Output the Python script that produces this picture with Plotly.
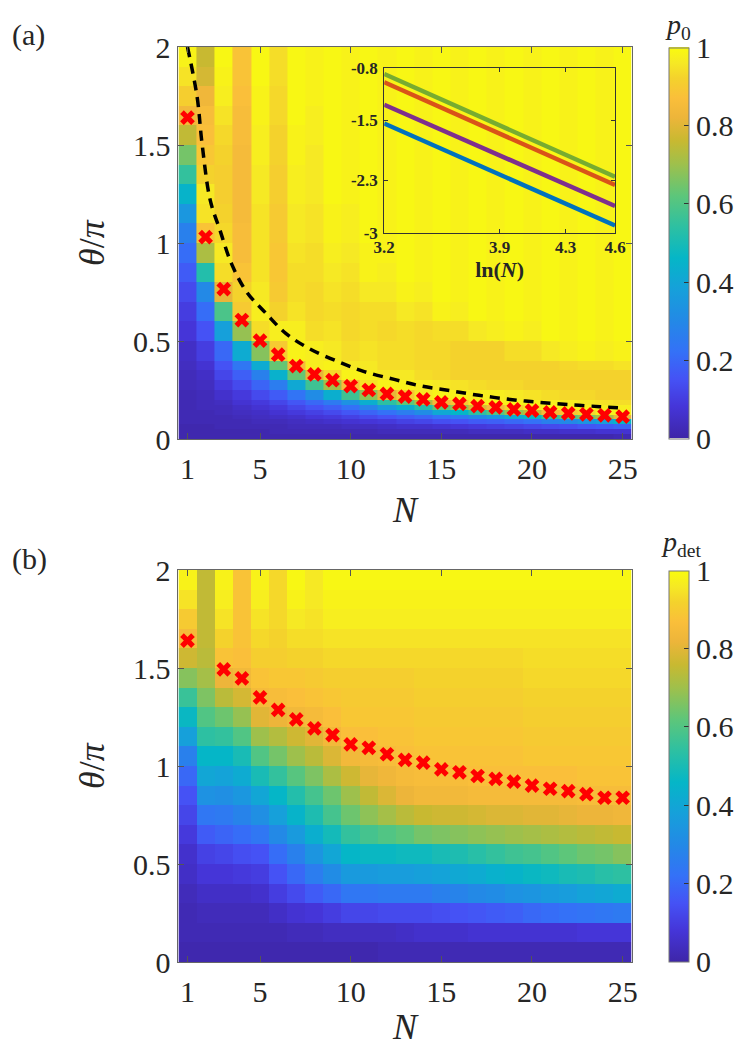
import numpy as np
import plotly.graph_objects as go

# the page body keeps a small default margin, so the figure is drawn slightly in
PAGE_W, PAGE_H = 748, 1055
OFF_X, OFF_Y = 4, 8
W, H = PAGE_W - 16, PAGE_H - 16
FONT = '"Liberation Serif", "Times New Roman", "DejaVu Serif", serif'

# ---- data ----
N_vals = list(range(1, 26))

# panel (a): row edges in theta/pi (finer near the bottom)
theta_edges_a = [0, 0.025, 0.05, 0.075, 0.1, 0.125, 0.15, 0.175, 0.2,
                 0.25, 0.3, 0.35, 0.4, 0.5, 0.6, 0.7, 0.8, 0.9, 1.0, 1.1,
                 1.2, 1.3, 1.4, 1.5, 1.6, 1.7, 1.8, 1.9, 2.0]

# p0 in percent, one row per theta band (bottom -> top), columns N=1..25
p0_rows = [
    [1, 1, 1, 1, 1, 1, 1, 1, 1, 1, 1, 1, 1, 1, 1, 1, 1, 1, 1, 1, 1, 1, 1, 1, 2],
    [1, 1, 1, 1, 1, 2, 2, 2, 2, 2, 2, 3, 3, 3, 3, 3, 4, 4, 4, 5, 5, 6, 6, 7, 7],
    [1, 1, 2, 2, 2, 2, 3, 3, 3, 4, 4, 5, 6, 6, 7, 8, 9, 10, 11, 12, 13, 14, 16, 17, 19],
    [2, 2, 2, 2, 3, 3, 4, 5, 6, 7, 8, 9, 11, 12, 14, 15, 17, 18, 20, 22, 27, 30, 34, 38, 46],
    [2, 2, 2, 3, 4, 5, 6, 8, 9, 11, 13, 15, 17, 19, 22, 25, 30, 35, 42, 47, 56, 61, 66, 72, 82],
    [2, 2, 3, 4, 5, 7, 9, 11, 13, 16, 19, 22, 26, 31, 41, 46, 54, 60, 69, 75, 85, 89, 93, 97, 98],
    [2, 3, 3, 5, 7, 9, 12, 15, 18, 22, 28, 36, 43, 52, 62, 69, 79, 84, 92, 96, 98, 98, 98, 97, 97],
    [2, 3, 4, 7, 9, 12, 16, 20, 25, 33, 43, 54, 62, 72, 84, 89, 96, 98, 98, 98, 97, 97, 96, 95, 94],
    [2, 3, 6, 9, 13, 17, 23, 31, 43, 57, 68, 81, 90, 96, 98, 98, 97, 97, 96, 95, 94, 93, 93, 92, 92],
    [3, 4, 9, 13, 19, 26, 41, 57, 70, 86, 95, 98, 98, 97, 96, 95, 94, 93, 93, 92, 92, 92, 92, 92, 92],
    [3, 5, 12, 18, 27, 44, 63, 81, 93, 98, 98, 96, 96, 94, 93, 92, 92, 92, 92, 92, 92, 92, 92, 92, 92],
    [4, 7, 15, 24, 42, 63, 85, 97, 98, 96, 96, 94, 94, 93, 93, 92, 92, 92, 92, 92, 92, 93, 94, 94, 95],
    [5, 10, 20, 42, 67, 90, 98, 97, 96, 94, 95, 94, 94, 93, 93, 92, 92, 92, 94, 94, 96, 97, 98, 97, 98],
    [8, 15, 38, 69, 94, 97, 97, 94, 95, 93, 94, 93, 94, 93, 94, 94, 96, 97, 98, 97, 99, 98, 99, 98, 99],
    [10, 21, 59, 90, 97, 92, 95, 93, 94, 93, 94, 94, 96, 95, 98, 97, 99, 98, 99, 98, 99, 98, 99, 98, 99],
    [13, 30, 81, 92, 96, 90, 94, 93, 95, 94, 96, 96, 98, 97, 99, 98, 99, 98, 99, 98, 99, 98, 99, 98, 99],
    [17, 52, 94, 88, 95, 89, 94, 94, 96, 95, 98, 97, 99, 98, 99, 98, 99, 98, 99, 98, 99, 98, 99, 98, 99],
    [21, 72, 96, 86, 95, 89, 95, 94, 97, 96, 98, 98, 99, 98, 99, 98, 99, 98, 99, 98, 99, 98, 99, 98, 99],
    [27, 88, 93, 86, 95, 90, 96, 95, 98, 97, 99, 98, 99, 98, 99, 98, 99, 98, 99, 98, 99, 98, 99, 98, 99],
    [35, 95, 92, 85, 95, 90, 96, 95, 98, 97, 99, 98, 99, 98, 99, 98, 99, 98, 99, 98, 99, 98, 99, 98, 99],
    [45, 96, 91, 85, 96, 91, 97, 96, 99, 98, 99, 98, 99, 98, 99, 98, 99, 98, 99, 98, 99, 98, 99, 98, 99],
    [55, 92, 91, 85, 96, 91, 97, 96, 99, 98, 99, 98, 99, 98, 99, 98, 99, 98, 99, 98, 99, 98, 99, 98, 99],
    [65, 89, 92, 85, 97, 92, 98, 96, 99, 98, 99, 98, 99, 98, 99, 98, 99, 98, 99, 98, 99, 98, 99, 98, 99],
    [75, 87, 93, 86, 97, 92, 98, 97, 99, 98, 99, 98, 99, 98, 99, 98, 99, 98, 99, 98, 99, 98, 99, 98, 99],
    [84, 86, 95, 86, 98, 93, 99, 97, 99, 98, 99, 98, 99, 98, 99, 98, 99, 98, 99, 98, 99, 98, 99, 98, 99],
    [91, 83, 97, 87, 98, 93, 99, 98, 99, 98, 99, 98, 99, 98, 99, 98, 99, 98, 99, 98, 99, 98, 99, 98, 99],
    [95, 78, 98, 88, 99, 94, 99, 98, 99, 98, 99, 98, 99, 98, 99, 98, 99, 98, 99, 98, 99, 98, 99, 98, 99],
    [98, 76, 99, 88, 99, 94, 99, 98, 99, 98, 99, 98, 99, 98, 99, 98, 99, 98, 99, 98, 99, 98, 99, 98, 99],
]

# panel (b): uniform bands of 0.1
theta_edges_b = [round(0.1 * i, 1) for i in range(21)]

# p_det in percent, one list per column N=1..25 (bottom -> top)
pdet_cols = [
    [1, 2, 2, 3, 5, 6, 9, 12, 15, 20, 27, 38, 47, 56, 67, 77, 85, 90, 95, 98],
    [1, 2, 3, 5, 8, 11, 17, 24, 33, 40, 46, 54, 60, 66, 71, 74, 75, 75, 75, 75],
    [1, 2, 3, 5, 8, 12, 19, 25, 32, 39, 46, 55, 64, 74, 82, 88, 92, 95, 97, 98],
    [1, 2, 3, 5, 9, 14, 21, 28, 35, 42, 50, 60, 69, 78, 84, 87, 88, 88, 88, 88],
    [1, 2, 3, 6, 10, 15, 24, 32, 40, 50, 60, 70, 80, 85, 88, 91, 93, 95, 97, 98],
    [1, 2, 5, 10, 15, 21, 30, 38, 46, 55, 65, 73, 82, 86, 89, 91, 92, 93, 93, 93],
    [1, 3, 7, 13, 20, 27, 36, 45, 52, 61, 70, 77, 84, 87, 89, 92, 94, 96, 98, 99],
    [1, 3, 8, 17, 26, 34, 43, 51, 58, 66, 74, 80, 85, 88, 90, 92, 94, 95, 96, 96],
    [1, 4, 10, 20, 31, 40, 49, 58, 64, 72, 79, 84, 87, 89, 91, 93, 95, 97, 98, 99],
    [1, 4, 12, 24, 36, 46, 55, 64, 70, 77, 84, 87, 89, 90, 91, 93, 95, 97, 98, 99],
    [1, 4, 12, 24, 36, 47, 58, 68, 75, 81, 85, 87, 89, 90, 91, 93, 95, 97, 98, 99],
    [2, 4, 13, 25, 37, 47, 60, 71, 79, 83, 86, 88, 89, 90, 91, 93, 95, 97, 98, 99],
    [2, 5, 13, 25, 37, 48, 62, 74, 82, 85, 87, 88, 89, 90, 91, 93, 95, 97, 98, 99],
    [2, 6, 13, 25, 38, 48, 65, 76, 84, 86, 88, 89, 90, 91, 92, 93, 95, 97, 98, 99],
    [2, 6, 14, 27, 39, 50, 66, 77, 84, 86, 88, 89, 90, 91, 92, 93, 95, 97, 98, 99],
    [2, 6, 15, 28, 41, 51, 67, 77, 84, 86, 88, 89, 90, 91, 92, 93, 95, 97, 98, 99],
    [2, 7, 16, 30, 42, 53, 68, 78, 85, 87, 88, 89, 90, 91, 92, 93, 95, 97, 98, 99],
    [2, 7, 17, 31, 44, 55, 69, 79, 85, 87, 88, 89, 90, 91, 92, 93, 95, 97, 98, 99],
    [2, 7, 18, 33, 45, 57, 70, 79, 85, 87, 88, 89, 90, 91, 92, 93, 95, 97, 98, 99],
    [2, 7, 20, 34, 47, 58, 71, 80, 85, 87, 89, 90, 91, 92, 93, 94, 95, 97, 98, 99],
    [2, 7, 21, 36, 48, 60, 72, 80, 85, 87, 89, 90, 91, 92, 93, 94, 95, 97, 98, 99],
    [2, 7, 22, 37, 50, 62, 73, 81, 85, 87, 89, 90, 91, 92, 93, 94, 95, 97, 98, 99],
    [2, 8, 23, 39, 51, 64, 74, 82, 86, 88, 89, 90, 91, 92, 93, 94, 95, 97, 98, 99],
    [2, 8, 24, 40, 53, 65, 75, 82, 86, 88, 89, 90, 91, 92, 93, 94, 95, 97, 98, 99],
    [2, 8, 25, 42, 54, 67, 76, 83, 86, 88, 89, 90, 91, 92, 93, 94, 95, 97, 98, 99],
]

# red crosses
cross_a_theta = [1.64, 1.03, 0.765, 0.607, 0.502, 0.43, 0.372, 0.33, 0.30, 0.27,
                 0.25, 0.23, 0.216, 0.202, 0.187, 0.179, 0.168, 0.161, 0.151,
                 0.145, 0.136, 0.131, 0.126, 0.121, 0.114]
cross_b_N = [1] + list(range(3, 26))
cross_b_theta = [1.64, 1.493, 1.447, 1.35, 1.286, 1.238, 1.192, 1.158, 1.11,
                 1.093, 1.06, 1.031, 1.017, 0.983, 0.968, 0.949, 0.934, 0.92,
                 0.90, 0.884, 0.872, 0.856, 0.838, 0.838]

# black dashed curve in (a)
dash_N = [1.0, 1.53, 1.8, 2.25, 2.79, 3.42, 4.25, 5.33, 6.42, 7.68, 9.3,
          10.75, 12.4, 13.9, 15.45, 17.07, 18.8, 20.4, 22.1, 23.75, 25.0]
dash_theta = [2.0, 1.746, 1.51, 1.22, 1.066, 0.896, 0.752, 0.641, 0.539,
              0.463, 0.395, 0.344, 0.304, 0.27, 0.247, 0.223, 0.202, 0.187,
              0.175, 0.165, 0.158]

# inset: ln(p) vs ln(N)
inset_lnN = [3.2, 4.6]
inset_green = [-0.88, -2.25]
inset_orange = [-0.99, -2.36]
inset_purple = [-1.29, -2.64]
inset_blue = [-1.54, -2.90]

parula = [
    [0.00, "#3E26A8"], [0.08, "#4535D8"], [0.15, "#4552F5"],
    [0.22, "#3471F7"], [0.30, "#2389E6"], [0.38, "#16A0DA"],
    [0.46, "#05B6C7"], [0.54, "#2DC0A2"], [0.62, "#5DC67A"],
    [0.70, "#9EC04C"], [0.76, "#C8B931"], [0.82, "#EDB53A"],
    [0.87, "#FABF3A"], [0.92, "#F4D22C"], [0.96, "#F6E924"],
    [1.00, "#F9FB0E"],
]


# positions below are page pixels of the reference
def px_x(p):
    return (p - OFF_X) / W


def px_y(p):
    return 1 - (p - OFF_Y) / H


z_a = np.array(p0_rows) / 100.0
z_b = np.array(pdet_cols).T / 100.0

cb_common = dict(
    thickness=20, thicknessmode="pixels", len=391, lenmode="pixels",
    x=px_x(677), xanchor="left", yanchor="middle", xpad=0, ypad=0,
    outlinewidth=1, outlinecolor="#777777",
    tickvals=[0, 0.2, 0.4, 0.6, 0.8, 1],
    ticktext=["0", "0.2", "0.4", "0.6", "0.8", "1"],
    ticks="inside", ticklen=5, tickcolor="#333333",
    tickfont=dict(family=FONT, size=30, color="#262626"),
)

fig = go.Figure()

fig.add_trace(go.Heatmap(
    x=N_vals, y=theta_edges_a, z=z_a, zmin=0, zmax=1, colorscale=parula,
    xaxis="x", yaxis="y", hoverinfo="skip",
    colorbar=dict(cb_common, y=px_y(243)),
))
fig.add_trace(go.Scatter(
    x=dash_N, y=dash_theta, mode="lines", xaxis="x", yaxis="y",
    line=dict(color="black", width=3.5, dash="10px,7px", shape="spline"),
    showlegend=False, hoverinfo="skip",
))
fig.add_trace(go.Scatter(
    x=N_vals, y=cross_a_theta, mode="markers", xaxis="x", yaxis="y",
    marker=dict(symbol="x", size=13, color="#FF0000", line=dict(width=0)),
    showlegend=False, hoverinfo="skip",
))

fig.add_trace(go.Heatmap(
    x=N_vals, y=theta_edges_b, z=z_b, zmin=0, zmax=1, colorscale=parula,
    xaxis="x2", yaxis="y2", hoverinfo="skip",
    colorbar=dict(cb_common, y=px_y(766)),
))
fig.add_trace(go.Scatter(
    x=cross_b_N, y=cross_b_theta, mode="markers", xaxis="x2", yaxis="y2",
    marker=dict(symbol="x", size=13, color="#FF0000", line=dict(width=0)),
    showlegend=False, hoverinfo="skip",
))

for ys, col in [(inset_green, "#77AC30"), (inset_orange, "#D95319"),
                (inset_purple, "#7E2F8E"), (inset_blue, "#0072BD")]:
    fig.add_trace(go.Scatter(
        x=inset_lnN, y=ys, mode="lines", xaxis="x3", yaxis="y3",
        line=dict(color=col, width=4.5), showlegend=False, hoverinfo="skip",
    ))

main_x = dict(
    range=[0.5, 25.5], tickvals=[1, 5, 10, 15, 20, 25],
    ticks="inside", ticklen=6, tickcolor="#555555", showline=True,
    linecolor="#666666", linewidth=1, mirror="ticks", showgrid=False,
    zeroline=False, ticklabelstandoff=3, automargin=False,
    tickfont=dict(family=FONT, size=30, color="#262626"),
    title=dict(text="<i>N</i>", standoff=12,
               font=dict(family=FONT, size=36, color="#262626")),
)
main_y = dict(
    range=[0, 2], tickvals=[0, 0.5, 1, 1.5, 2],
    ticktext=["0", "0.5", "1", "1.5", "2"],
    ticks="inside", ticklen=6, tickcolor="#555555", showline=True,
    linecolor="#666666", linewidth=1, mirror="ticks", showgrid=False,
    zeroline=False, ticklabelstandoff=1, automargin=False,
    tickfont=dict(family=FONT, size=30, color="#262626"),
    title=dict(text="<i>θ</i>/<i>π</i>", standoff=17,
               font=dict(family=FONT, size=36, color="#262626")),
)

label_font = dict(family=FONT, size=30, color="#262626")

fig.update_layout(
    width=W, height=H, margin=dict(l=0, r=0, t=0, b=0),
    paper_bgcolor="white", plot_bgcolor="rgba(0,0,0,0)", showlegend=False,
    font=dict(family=FONT),
    xaxis=dict(main_x, domain=[px_x(177.5), px_x(639)], anchor="y"),
    yaxis=dict(main_y, domain=[px_y(439), px_y(47)], anchor="x"),
    xaxis2=dict(main_x, domain=[px_x(177.5), px_x(639)], anchor="y2"),
    yaxis2=dict(main_y, domain=[px_y(962), px_y(570)], anchor="x2"),
    xaxis3=dict(
        domain=[px_x(387), px_x(622)], anchor="y3", range=[3.2, 4.6],
        tickvals=[3.2, 3.9, 4.3, 4.6], ticktext=["3.2", "3.9", "4.3", "4.6"],
        ticks="inside", ticklen=4, tickcolor="#333333", showline=True,
        linecolor="#333333", linewidth=1, mirror="ticks", showgrid=False,
        zeroline=False, ticklabelstandoff=-1, automargin=False,
        tickfont=dict(family=FONT, size=17, color="#262626", weight="bold"),
        title=dict(text="<b>ln(<i>N</i>)</b>", standoff=0,
                   font=dict(family=FONT, size=22, color="#262626")),
    ),
    yaxis3=dict(
        domain=[px_y(233), px_y(68)], anchor="x3", range=[-3, -0.8],
        tickvals=[-0.8, -1.5, -2.3, -3], ticktext=["-0.8", "-1.5", "-2.3", "-3"],
        ticks="inside", ticklen=4, tickcolor="#333333", showline=True,
        linecolor="#333333", linewidth=1, mirror="ticks", showgrid=False,
        zeroline=False, ticklabelstandoff=2, automargin=False,
        tickfont=dict(family=FONT, size=17, color="#262626", weight="bold"),
    ),
    annotations=[
        dict(text="(a)", x=px_x(6), y=px_y(16), xref="paper", yref="paper",
             xanchor="left", yanchor="top", showarrow=False, font=label_font),
        dict(text="(b)", x=px_x(6), y=px_y(540), xref="paper", yref="paper",
             xanchor="left", yanchor="top", showarrow=False, font=label_font),
        dict(text="<i>p</i><sub>0</sub>", x=px_x(686), y=px_y(26),
             xref="paper", yref="paper", xanchor="center", yanchor="middle",
             showarrow=False, font=dict(family=FONT, size=28, color="#262626")),
        dict(text="<i>p</i><sub>det</sub>", x=px_x(689), y=px_y(543),
             xref="paper", yref="paper", xanchor="center", yanchor="middle",
             showarrow=False, font=dict(family=FONT, size=28, color="#262626")),
    ],
)

fig.write_html("out.html")
